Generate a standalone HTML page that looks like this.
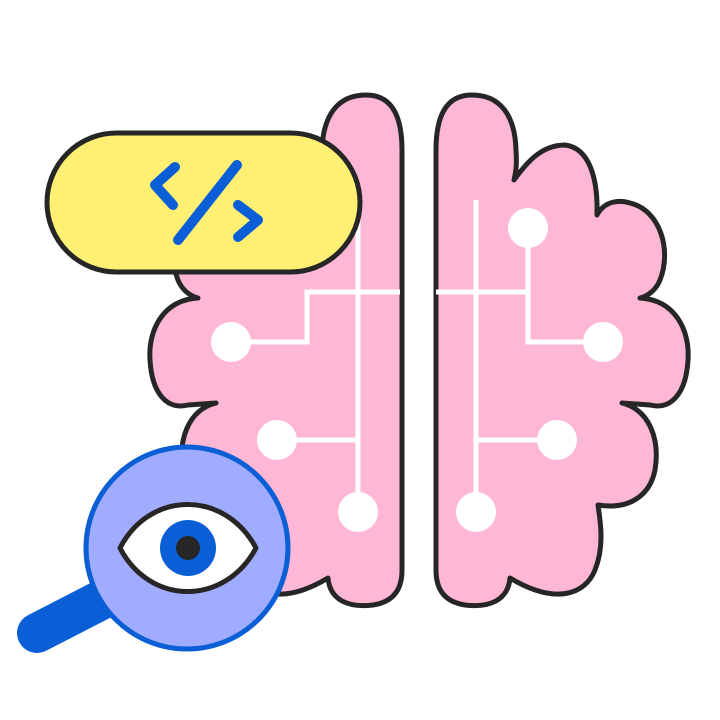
<!DOCTYPE html>
<html><head><style>html,body{margin:0;background:#fff}svg{display:block}</style></head>
<body>
<svg width="720" height="720" viewBox="0 0 720 720" xmlns="http://www.w3.org/2000/svg">
<defs>
<path id="hemi" d="M436,150 C436,110 450,95 472,95 C500,95 515,115 516,150 C517,165 516,172 514,180 C525,165 540,145 565,145 C590,148 598,180 597,215 C605,200 620,200 630,203 C660,210 672,250 660,280 C656,290 648,296 640,298 C675,300 690,330 688,360 C686,395 670,410 650,405 L622,403 C650,410 660,440 655,470 C650,495 630,510 598,505 C600,520 605,545 595,570 C585,595 555,605 510,578 C508,600 490,608 465,605 C445,602 436,590 436,570 Z"/>
</defs>
<g stroke="#262626" stroke-width="5" fill="#ffb7d6" stroke-linejoin="round" stroke-linecap="round">
<use href="#hemi"/>
<use href="#hemi" transform="translate(838,0) scale(-1,1)"/>
</g>
<g stroke="#fff" stroke-width="5" fill="none">
<path d="M476,200 V510 M436,292 H528 M528,228 V342 H603 M476,440 H557"/>
<path d="M358,200 V510 M400,292 H307 V342 H231 M358,440 H277"/>
</g>
<g fill="#fff">
<circle cx="528" cy="228" r="20"/><circle cx="603" cy="342" r="20"/><circle cx="557" cy="440" r="20"/><circle cx="476" cy="512" r="20"/>
<circle cx="231" cy="342" r="20"/><circle cx="277" cy="440" r="20"/><circle cx="358" cy="512" r="20"/>
</g>
<rect x="47" y="133" width="313" height="139" rx="69.5" fill="#fff073" stroke="#262626" stroke-width="5"/>
<g stroke="#0a5fd6" stroke-width="10" fill="none" stroke-linecap="round" stroke-linejoin="round">
<path d="M175,167 L155,185 L173,205"/>
<path d="M237,165 L178,240"/>
<path d="M238,205 L258,220 L238,237"/>
</g>
<line x1="37" y1="633" x2="105" y2="598" stroke="#0a5fd6" stroke-width="40" stroke-linecap="round"/>
<circle cx="187" cy="548" r="101" fill="#a0acff" stroke="#0a5fd6" stroke-width="5"/>
<path d="M120,548 C150,490 225,490 256,548 C225,606 150,606 120,548 Z" fill="#fff" stroke="#262626" stroke-width="5" stroke-linejoin="round"/>
<circle cx="188" cy="548" r="28" fill="#0a5fd6"/>
<circle cx="188" cy="548" r="12" fill="#262626"/>
</svg>
</body></html>
